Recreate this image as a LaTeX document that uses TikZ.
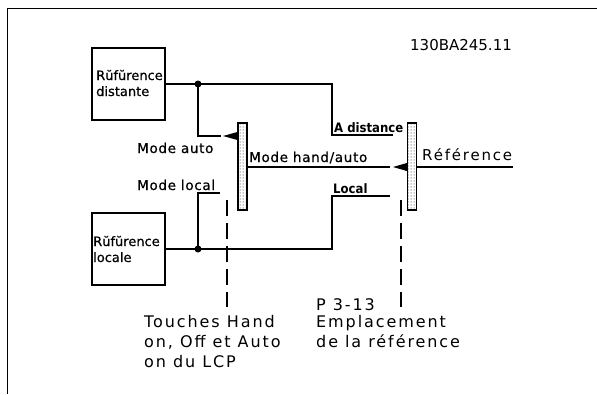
\documentclass[tikz,border=0pt]{standalone}
\usepackage{fontspec}
\setmainfont{DejaVu Sans}
\newfontfamily\lblfont[LetterSpace=5,FakeBold=0.6]{DejaVu Sans}
\newfontfamily\boxfont[FakeBold=0.6]{DejaVu Sans}
\newfontfamily\bigfont[LetterSpace=12]{DejaVu Sans}
\newfontfamily\condfont{DejaVu Sans Condensed Bold}
\usetikzlibrary{patterns}
\tikzset{
  wire/.style={line width=1.3pt},
  refbox/.style={draw, line width=1.3pt, minimum width=73pt, minimum height=72pt, inner sep=0pt},
  switchbar/.style={draw, line width=1.3pt, pattern=dots, minimum width=9pt, minimum height=87pt, inner sep=0pt},
  lbl/.style={anchor=base west, inner sep=0pt, font=\fontsize{13.5}{15}\selectfont\lblfont},
  boxlbl/.style={anchor=base west, inner sep=0pt, font=\fontsize{13}{15}\selectfont\boxfont},
  smalllbl/.style={anchor=base west, inner sep=0pt, font=\fontsize{13}{15}\selectfont\condfont},
  biglbl/.style={anchor=base west, inner sep=0pt, font=\fontsize{16}{20}\selectfont\bigfont},
  dashline/.style={line width=1.3pt, dash pattern=on 16pt off 7pt},
}
\begin{document}
\begin{tikzpicture}[x=1pt,y=-1pt]
\useasboundingbox (0,0) rectangle (597,394);
\draw[line width=1pt] (7,394) -- (7,8) -- (597,8);

% boxes
\node[refbox] (dist) at (128.5,84) {};
\node[refbox] (loc) at (128.5,249) {};
\node[boxlbl] (distA) at (96,80) {Rŭfŭrence};
\node[boxlbl] (distB) at (96,96) {distante};
\node[boxlbl] (locA) at (93,246) {Rŭfŭrence};
\node[boxlbl] (locB) at (93,262) {locale};

% switch bars
\node[switchbar] (bar1) at (242.5,166.5) {};
\node[switchbar] (bar2) at (412,166.5) {};

% coordinates
\coordinate (jd) at (198,84);
\coordinate (adc) at (332,84);
\coordinate (ade) at (393,135);
\coordinate (mauto) at (221,136);
\coordinate (jl) at (198,249);
\coordinate (lc) at (332,249);
\coordinate (le) at (390,196);
\coordinate (mlocal) at (220,193);
\coordinate (hA) at (390,167);
\coordinate (refE) at (513,167);

% wires
\draw[wire] (dist.east |- jd) -- (adc) |- (ade);
\draw[wire] (jd) |- (mauto);
\draw[wire] (loc.east |- jl) -- (lc) |- (le);
\draw[wire] (jl) |- (mlocal);
\draw[wire] (bar1.east |- hA) -- (hA);
\draw[wire] (bar2.east |- refE) -- (refE);
\fill (jd) circle (3.5pt);
\fill (jl) circle (3.5pt);

% contact arrows
\fill (223,136) -- (bar1.west |- 0,132) -- (bar1.west |- 0,140) -- cycle;
\fill (393,167) -- (bar2.west |- 0,163) -- (bar2.west |- 0,171) -- cycle;

% dashed lines
\coordinate (d1t) at (227,200);
\coordinate (d1b) at (227,307);
\coordinate (d2t) at (401,200);
\coordinate (d2b) at (401,307);
\draw[dashline] (d1t) -- (d1b);
\draw[dashline] (d2t) -- (d2b);

% labels
\node[lbl] (lauto) at (137,153) {Mode auto};
\node[lbl] (llocal) at (137,190) {Mode local};
\node[lbl] (lhand) at (249,162) {Mode hand/auto};
\node[smalllbl] (ldist) at (334,132) {A distance};
\node[smalllbl] (lloc) at (333,193) {Local};
\node[anchor=base west, inner sep=0pt, font=\fontsize{15}{18}\selectfont\bigfont] (lref) at (422,160) {Référence};
\node[anchor=base west, inner sep=0pt, font=\fontsize{15}{18}\selectfont] (code) at (410,50) {130BA245.11};

\node[biglbl] (t1) at (144,327) {Touches Hand};
\node[biglbl] (t2) at (144,347) {on, Off et Auto};
\node[biglbl] (t3) at (144,367) {on du LCP};
\node[biglbl] (p1) at (316,310) {P 3-13};
\node[biglbl] (p2) at (316,327) {Emplacement};
\node[biglbl] (p3) at (316,347) {de la référence};
\end{tikzpicture}
\end{document}
